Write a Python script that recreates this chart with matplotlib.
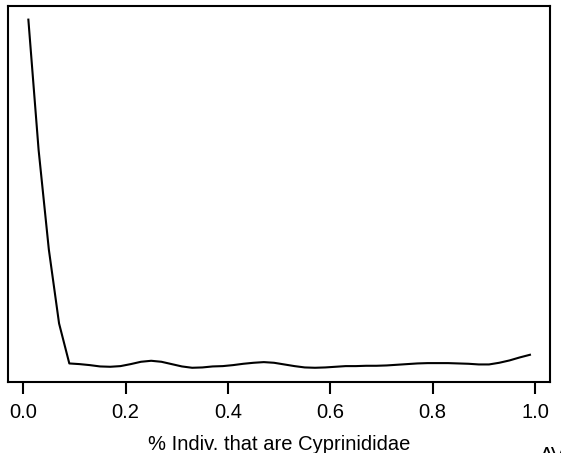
import numpy as np
import matplotlib
matplotlib.use("Agg")
import matplotlib.pyplot as plt

plt.rcParams['font.family'] = ['Liberation Sans', 'DejaVu Sans']

# proportion of individuals that are Cyprinididae (grid of evaluation points)
x_vals = [0.01, 0.03, 0.05, 0.07, 0.09, 0.11, 0.13, 0.15, 0.17, 0.19,
          0.21, 0.23, 0.25, 0.27, 0.29, 0.31, 0.33, 0.35, 0.37, 0.39,
          0.41, 0.43, 0.45, 0.47, 0.49, 0.51, 0.53, 0.55, 0.57, 0.59,
          0.61, 0.63, 0.65, 0.67, 0.69, 0.71, 0.73, 0.75, 0.77, 0.79,
          0.81, 0.83, 0.85, 0.87, 0.89, 0.91, 0.93, 0.95, 0.97, 0.99]

# density estimate (arbitrary units)
density = [10.80, 6.89, 3.90, 1.68, 0.48, 0.46, 0.43, 0.39, 0.38, 0.40,
           0.46, 0.53, 0.56, 0.53, 0.46, 0.39, 0.35, 0.36, 0.39, 0.40,
           0.43, 0.47, 0.50, 0.52, 0.50, 0.45, 0.40, 0.36, 0.35, 0.36,
           0.38, 0.40, 0.40, 0.41, 0.41, 0.42, 0.44, 0.46, 0.48, 0.49,
           0.49, 0.49, 0.48, 0.47, 0.45, 0.45, 0.50, 0.57, 0.66, 0.74]

xlabel = "% Indiv. that are Cyprinididae"
xticks = [0.0, 0.2, 0.4, 0.6, 0.8, 1.0]
xtick_labels = ["0.0", "0.2", "0.4", "0.6", "0.8", "1.0"]

fig = plt.figure(figsize=(5.61, 4.53), dpi=100)
ax = fig.add_axes([8.3 / 561, 1 - 381.7 / 453, (550 - 8.3) / 561, (381.7 - 5.7) / 453])

ax.plot(x_vals, density, color='black', lw=1.5)

# R-style 4% range expansion
xr = max(x_vals) - min(x_vals)
yr = max(density) - min(density)
ax.set_xlim(min(x_vals) - 0.04 * xr, max(x_vals) + 0.04 * xr)
ax.set_ylim(min(density) - 0.04 * yr, max(density) + 0.04 * yr)

ax.set_xticks(xticks)
ax.set_xticklabels(xtick_labels, fontsize=14.5)
ax.set_yticks([])
ax.tick_params(axis='x', direction='out', length=8.6, width=1.5, pad=7)
for s in ax.spines.values():
    s.set_linewidth(1.5)

ax.set_xlabel(xlabel, fontsize=14.5, labelpad=9)

fig.text(540 / 561, 1 - 461 / 453, "AV", fontsize=14.5, ha='left', va='baseline')

plt.savefig("out.png", dpi=100)
